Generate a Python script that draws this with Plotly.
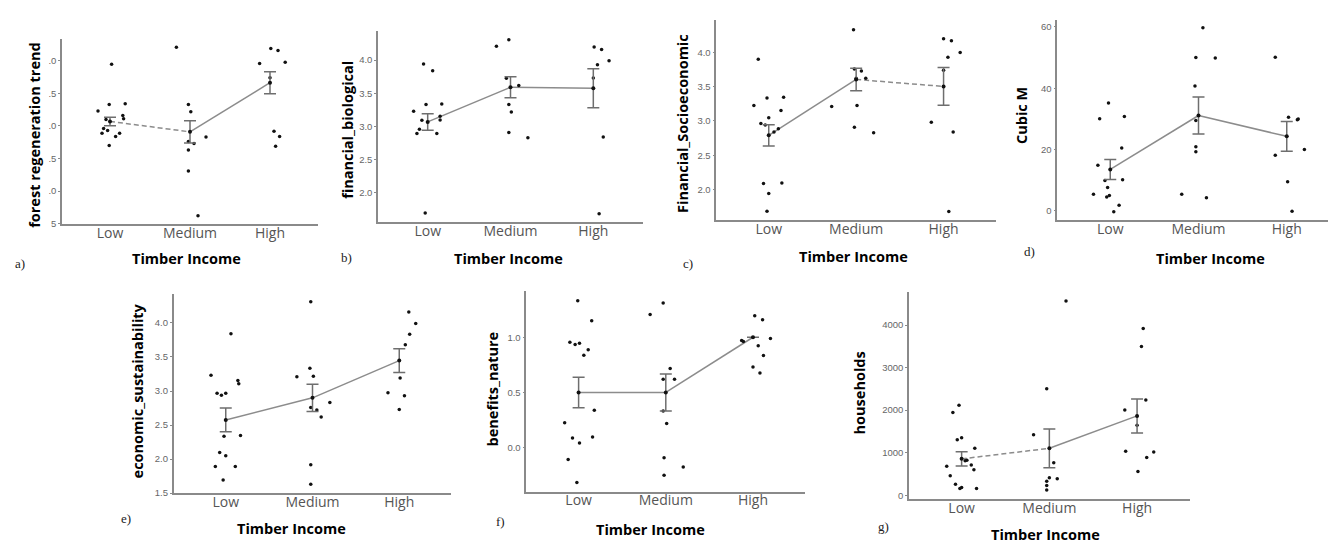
import plotly.graph_objects as go

categories = ["Low", "Medium", "High"]
x_title = "Timber Income"

# ---------------- panel a: forest regeneration trend ----------------
a_low = [0.95, 0.23, 0.33, 0.34, 0.16, 0.11, 0.10, -0.04, -0.11, -0.07, -0.16, -0.11, -0.30]
a_low_dx = [0.02, -0.15, -0.01, 0.19, 0.16, 0.17, -0.05, -0.08, -0.10, -0.03, 0.07, 0.12, -0.01]
a_med = [1.21, 0.33, 0.22, -0.24, -0.27, -0.17, -0.37, -0.69, -1.38]
a_med_dx = [-0.17, -0.02, 0.01, -0.02, 0.05, 0.20, -0.02, -0.02, 0.10]
a_high = [0.96, 1.19, 1.16, 0.98, 0.74, -0.08, -0.16, -0.31]
a_high_dx = [-0.13, 0.01, 0.10, 0.19, 0.00, 0.05, 0.12, 0.07]
a_means = [0.07, -0.09, 0.665]
a_se = [0.065, 0.17, 0.17]
a_ticks = [1.0, 0.5, 0.0, -0.5, -1.0, -1.5]
a_ticktext = [".0", ".5", ".0", ".5", ".0", "5"]

# ---------------- panel b: financial_biological ----------------
b_low = [3.94, 3.84, 3.225, 3.33, 3.335, 3.15, 3.095, 3.09, 2.955, 2.89, 2.89, 1.685]
b_low_dx = [-0.05, 0.06, -0.17, -0.02, 0.17, 0.15, 0.15, -0.07, -0.10, -0.13, 0.11, -0.03]
b_med = [4.21, 4.31, 3.725, 3.615, 3.33, 3.215, 2.905, 2.825]
b_med_dx = [-0.17, -0.02, -0.05, 0.10, -0.02, 0.01, -0.02, 0.21]
b_high = [4.20, 4.16, 3.93, 3.99, 3.73, 2.835, 1.675]
b_high_dx = [0.01, 0.10, 0.05, 0.19, 0.00, 0.12, 0.07]
b_means = [3.065, 3.59, 3.575]
b_se = [0.125, 0.16, 0.295]
b_ticks = [2.0, 2.5, 3.0, 3.5, 4.0]
b_ticktext = ["2.0", "2.5", "3.0", "3.5", "4.0"]

# ---------------- panel c: Financial_Socioeconomic ----------------
c_low = [3.90, 3.226, 3.337, 3.346, 3.154, 3.048, 2.962, 2.94, 2.84, 2.885, 2.087, 2.096, 1.94, 1.683]
c_low_dx = [-0.12, -0.17, -0.02, 0.17, 0.14, 0.00, -0.09, -0.04, 0.06, 0.11, -0.06, 0.15, 0.00, -0.02]
c_med = [4.33, 3.76, 3.73, 3.625, 3.625, 3.21, 3.226, 2.91, 2.83]
c_med_dx = [-0.03, -0.02, 0.06, 0.00, 0.11, -0.28, 0.01, -0.02, 0.20]
c_high = [4.20, 4.17, 3.93, 4.00, 3.74, 2.98, 2.84, 1.68]
c_high_dx = [0.00, 0.09, 0.05, 0.19, 0.00, -0.14, 0.11, 0.06]
c_means = [2.79, 3.606, 3.505]
c_se = [0.155, 0.165, 0.275]
c_ticks = [2.0, 2.5, 3.0, 3.5, 4.0]
c_ticktext = ["2.0", "2.5", "3.0", "3.5", "4.0"]

# ---------------- panel d: Cubic M ----------------
d_low = [35.2, 30.05, 30.8, 20.5, 14.9, 9.9, 10.1, 7.6, 5.4, 4.96, 4.5, 1.8, -0.3]
d_low_dx = [-0.02, -0.12, 0.16, 0.13, -0.14, -0.06, 0.14, -0.03, -0.19, -0.01, -0.04, 0.10, 0.04]
d_med = [59.7, 50.0, 49.9, 40.7, 29.5, 20.9, 19.3, 5.4, 4.3]
d_med_dx = [0.05, -0.03, 0.19, -0.04, -0.03, -0.03, -0.03, -0.19, 0.09]
d_high = [50.1, 30.5, 29.7, 30.0, 20.0, 18.1, 9.5, -0.1]
d_high_dx = [-0.13, 0.02, 0.12, 0.13, 0.20, -0.13, 0.01, 0.06]
d_means = [13.5, 31.1, 24.3]
d_se = [3.25, 6.05, 4.85]
d_ticks = [0, 20, 40, 60]
d_ticktext = ["0", "20", "40", "60"]

# ---------------- panel e: economic_sustainability ----------------
e_low = [3.84, 3.233, 3.155, 3.107, 2.966, 2.966, 2.937, 2.335, 2.345, 2.097, 2.049, 1.893, 1.893, 1.694]
e_low_dx = [0.06, -0.17, 0.14, 0.15, -0.10, 0.00, -0.05, -0.02, 0.17, -0.07, 0.00, -0.12, 0.11, -0.03]
e_med = [4.31, 3.21, 3.335, 3.218, 2.757, 2.723, 2.83, 2.62, 1.917, 1.63]
e_med_dx = [-0.02, -0.18, -0.03, 0.01, -0.02, 0.05, 0.20, 0.10, -0.02, -0.02]
e_high = [4.16, 3.99, 3.835, 3.68, 3.19, 2.976, 2.93, 2.73]
e_high_dx = [0.11, 0.19, 0.12, 0.07, 0.01, -0.13, 0.06, 0.00]
e_means = [2.575, 2.90, 3.447]
e_se = [0.175, 0.20, 0.175]
e_ticks = [1.5, 2.0, 2.5, 3.0, 3.5, 4.0]
e_ticktext = ["1.5", "2.0", "2.5", "3.0", "3.5", "4.0"]

# ---------------- panel f: benefits_nature ----------------
f_low = [1.332, 1.15, 0.955, 0.934, 0.946, 0.886, 0.838, 0.338, 0.225, 0.096, 0.087, 0.042, -0.108, -0.317]
f_low_dx = [-0.01, 0.15, -0.10, -0.04, 0.01, 0.11, 0.06, 0.18, -0.16, 0.16, -0.07, 0.01, -0.12, -0.02]
f_med = [1.311, 1.207, 0.716, 0.62, 0.62, 0.332, 0.219, -0.093, -0.177, -0.251]
f_med_dx = [-0.03, -0.18, 0.05, -0.03, 0.10, -0.03, 0.01, -0.02, 0.20, -0.02]
f_high = [1.195, 1.159, 0.97, 0.961, 0.988, 0.922, 0.835, 0.73, 0.677]
f_high_dx = [0.02, 0.11, -0.13, -0.11, 0.20, 0.06, 0.12, 0.00, 0.08]
f_means = [0.5, 0.5, 1.0]
f_se = [0.138, 0.168, 0.0]
f_ticks = [0.0, 0.5, 1.0]
f_ticktext = ["0.0", "0.5", "1.0"]

# ---------------- panel g: households ----------------
g_low = [2113, 1942, 1351, 1305, 1103, 823, 808, 707, 683, 598, 458, 256, 179, 155, 155]
g_low_dx = [-0.03, -0.10, 0.00, -0.05, 0.15, 0.06, 0.04, 0.11, -0.17, 0.14, -0.13, -0.07, 0.00, -0.02, 0.17]
g_med = [4567, 2501, 1421, 761, 412, 388, 326, 225, 124]
g_med_dx = [0.19, -0.03, -0.18, 0.05, 0.00, 0.09, -0.03, -0.03, -0.03]
g_high = [3922, 3495, 2237, 2004, 1647, 1033, 1017, 885, 559]
g_high_dx = [0.07, 0.05, 0.10, -0.14, 0.00, -0.13, 0.19, 0.11, 0.01]
g_means = [854, 1103, 1864]
g_se = [170, 455, 400]
g_ticks = [0, 1000, 2000, 3000, 4000]
g_ticktext = ["0", "1000", "2000", "3000", "4000"]

W, H = 1336, 543


def xd(l, r):
    return [l / W, r / W]


def yd(t, b):
    return [1 - b / H, 1 - t / H]


# layout / style per panel (pixel boxes, ranges, label positions, dash styles)
panels = [
    dict(name="forest regeneration trend", letter="a)",
         groups=[(a_low, a_low_dx), (a_med, a_med_dx), (a_high, a_high_dx)],
         means=a_means, se=a_se, ticks=a_ticks, ticktext=a_ticktext,
         box=(54, 310, 31.7, 218.3), yr=[-1.51, 1.33],
         ytitle=(27, 128), xtitle=(178, 253), lab=(12, 258), dash=["dash", "solid"]),
    dict(name="financial_biological", letter="b)",
         groups=[(b_low, b_low_dx), (b_med, b_med_dx), (b_high, b_high_dx)],
         means=b_means, se=b_se, ticks=b_ticks, ticktext=b_ticktext,
         box=(370, 635, 23.3, 216), yr=[1.55, 4.44],
         ytitle=(340, 123), xtitle=(500, 253), lab=(338, 252), dash=["solid", "solid"]),
    dict(name="Financial_Socioeconomic", letter="c)",
         groups=[(c_low, c_low_dx), (c_med, c_med_dx), (c_high, c_high_dx)],
         means=c_means, se=c_se, ticks=c_ticks, ticktext=c_ticktext,
         box=(708.3, 988, 11.7, 214.3), yr=[1.55, 4.48],
         ytitle=(675, 117), xtitle=(845, 251), lab=(680, 258), dash=["solid", "dash"]),
    dict(name="Cubic M", letter="d)",
         groups=[(d_low, d_low_dx), (d_med, d_med_dx), (d_high, d_high_dx)],
         means=d_means, se=d_se, ticks=d_ticks, ticktext=d_ticktext,
         box=(1049.3, 1331.7, 11.7, 214.3), yr=[-3.1, 62.4],
         ytitle=(1014, 109), xtitle=(1202, 253), lab=(1022, 246), dash=["solid", "solid"]),
    dict(name="economic_sustainability", letter="e)",
         groups=[(e_low, e_low_dx), (e_med, e_med_dx), (e_high, e_high_dx)],
         means=e_means, se=e_se, ticks=e_ticks, ticktext=e_ticktext,
         box=(165.7, 443.3, 288.3, 490), yr=[1.495, 4.43],
         ytitle=(129, 387), xtitle=(283, 525), lab=(118, 515), dash=["solid", "solid"]),
    dict(name="benefits_nature", letter="f)",
         groups=[(f_low, f_low_dx), (f_med, f_med_dx), (f_high, f_high_dx)],
         means=f_means, se=f_se, ticks=f_ticks, ticktext=f_ticktext,
         box=(518.3, 797.3, 286, 488.3), yr=[-0.401, 1.416],
         ytitle=(484, 385), xtitle=(642, 526), lab=(492, 518), dash=["solid", "solid"]),
    dict(name="households", letter="g)",
         groups=[(g_low, g_low_dx), (g_med, g_med_dx), (g_high, g_high_dx)],
         means=g_means, se=g_se, ticks=g_ticks, ticktext=g_ticktext,
         box=(901, 1181.7, 286.7, 495.7), yr=[-93, 4777],
         ytitle=(851, 389), xtitle=(1037, 531), lab=(875, 523), dash=["dash", "solid"]),
]

fig = go.Figure()
annotations = []
layout = {}
LINE_COL = "#8c8c8c"
AXIS_COL = "#8a8a8a"

for i, p in enumerate(panels, start=1):
    xa = "x" if i == 1 else f"x{i}"
    ya = "y" if i == 1 else f"y{i}"
    # connecting lines between means
    for k in range(2):
        fig.add_trace(go.Scatter(
            x=[k, k + 1], y=[p["means"][k], p["means"][k + 1]],
            mode="lines",
            line=dict(color=LINE_COL, width=1.5,
                      dash="5px,3px" if p["dash"][k] == "dash" else "solid"),
            xaxis=xa, yaxis=ya, showlegend=False, hoverinfo="skip"))
    # jittered raw points
    for ci, (vals, dxs) in enumerate(p["groups"]):
        fig.add_trace(go.Scatter(
            x=[ci + d for d in dxs], y=vals, mode="markers",
            marker=dict(color="#111111", size=3.5),
            xaxis=xa, yaxis=ya, showlegend=False))
    # means with error bars
    fig.add_trace(go.Scatter(
        x=[0, 1, 2], y=p["means"], mode="markers",
        marker=dict(color="#111111", size=4),
        error_y=dict(type="data", array=p["se"], visible=True,
                     color="#6e6e6e", thickness=1.5, width=6),
        xaxis=xa, yaxis=ya, showlegend=False))

    l, r, t, b = p["box"]
    xkey = "xaxis" if i == 1 else f"xaxis{i}"
    ykey = "yaxis" if i == 1 else f"yaxis{i}"
    layout[xkey] = dict(
        domain=xd(l, r), anchor=ya, range=[-0.6, 2.6],
        tickmode="array", tickvals=[0, 1, 2], ticktext=categories,
        ticks="", ticklen=0, ticklabelstandoff=-5,
        tickfont=dict(family="Open Sans", size=14, color="#555555"),
        showline=True, linecolor=AXIS_COL, linewidth=1.5,
        showgrid=False, zeroline=False, fixedrange=True)
    layout[ykey] = dict(
        domain=yd(t, b), anchor=xa, range=p["yr"],
        tickmode="array", tickvals=p["ticks"], ticktext=p["ticktext"],
        ticks="outside", ticklen=2, tickcolor=AXIS_COL,
        tickfont=dict(family="Liberation Sans", size=9.5, color="#666666"),
        showline=True, linecolor=AXIS_COL, linewidth=1.5,
        showgrid=False, zeroline=False, fixedrange=True)

    yx, yy = p["ytitle"]
    annotations.append(dict(
        text="<b>" + p["name"] + "</b>", x=yx / W, y=1 - yy / H, xref="paper", yref="paper",
        textangle=-90, showarrow=False, xanchor="center", yanchor="middle",
        font=dict(family="Open Sans", size=14.5, color="#000000")))
    tx, ty = p["xtitle"]
    annotations.append(dict(
        text="<b>" + x_title + "</b>", x=tx / W, y=1 - ty / H, xref="paper", yref="paper",
        showarrow=False, xanchor="center", yanchor="middle",
        font=dict(family="Open Sans", size=14.5, color="#000000")))
    lx, ly = p["lab"]
    annotations.append(dict(
        text=p["letter"], x=lx / W, y=1 - ly / H, xref="paper", yref="paper",
        showarrow=False, xanchor="center", yanchor="middle",
        font=dict(family="Liberation Serif", size=13, color="#222222")))

fig.update_layout(
    width=W, height=H,
    margin=dict(l=0, r=0, t=0, b=0),
    paper_bgcolor="white", plot_bgcolor="white",
    annotations=annotations, showlegend=False,
    **layout)

fig.write_html("out.html")
